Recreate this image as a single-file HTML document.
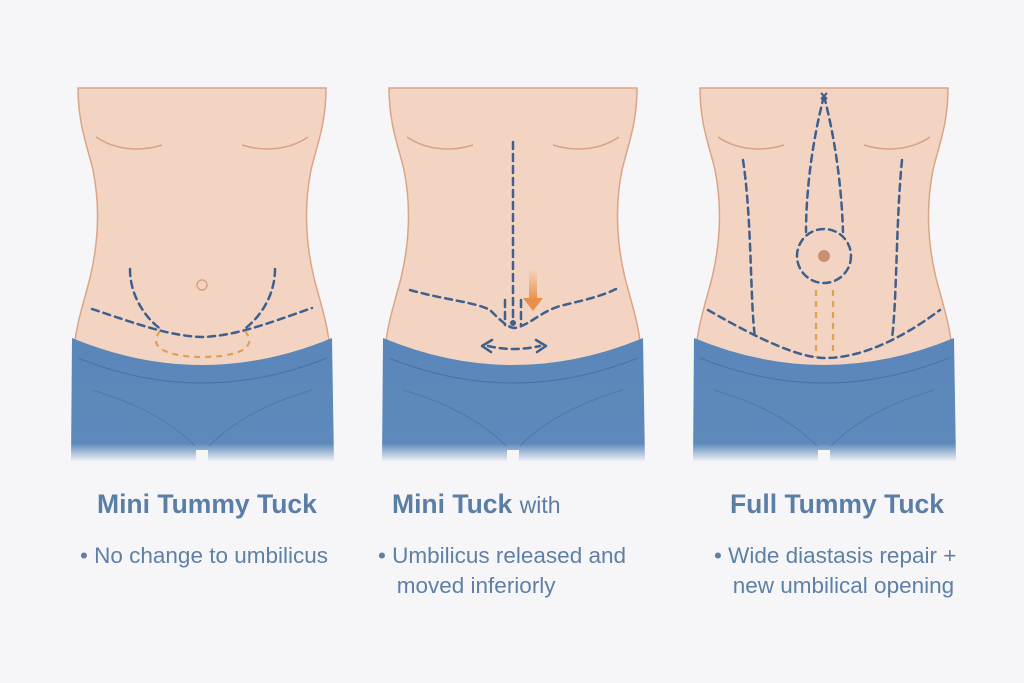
<!DOCTYPE html>
<html><head><meta charset="utf-8"><style>
html,body{margin:0;padding:0;background:#f6f6f9;}
body{width:1024px;height:683px;position:relative;overflow:hidden;font-family:"Liberation Sans",sans-serif;}
.t{position:absolute;font-weight:bold;font-size:26.5px;color:#5a7ea6;top:489px;white-space:nowrap}
.b{position:absolute;font-size:22.5px;color:#5f80a6;line-height:30px;white-space:nowrap}
</style></head><body>
<svg width="1024" height="683" style="position:absolute;left:0;top:0">
<defs>
<linearGradient id="fade" x1="0" y1="0" x2="0" y2="1">
<stop offset="0" stop-color="#5a86b9"/><stop offset="0.85" stop-color="#5d89bb"/><stop offset="1" stop-color="#f6f6f9"/></linearGradient>
<linearGradient id="og" x1="0" y1="0" x2="0" y2="1">
<stop offset="0" stop-color="#e89a5a" stop-opacity="0"/><stop offset="1" stop-color="#e8904a"/></linearGradient>
<g id="torso">
<path d="M78,88 L326,88 C326,125 316,148 311,170 C304,205 305,240 314,278 C321,305 328,325 330,350 L331,390 L73,390 L74,350 C76,325 83,305 90,278 C99,240 100,205 93,170 C88,148 78,125 78,88 Z" fill="#f3d4c2" stroke="#dba486" stroke-width="1.5"/>
<path d="M96,137 C115,150 140,152 162,145" fill="none" stroke="#d9a285" stroke-width="1.5"/>
<path d="M308,137 C289,150 264,152 242,145" fill="none" stroke="#d9a285" stroke-width="1.5"/>
<path d="M72,338 Q202,392 332,338 L334,462 L71,462 Z" fill="url(#fade)"/>
<path d="M78,358 Q202,408 327,358" fill="none" stroke="#4a72a3" stroke-width="1"/>
<path d="M92,390 Q160,410 195,446 M312,390 Q244,410 209,446" fill="none" stroke="#4a72a3" stroke-width="1" opacity="0.7"/>
<rect x="196" y="450" width="12" height="15" fill="#f6f6f9"/>
</g>
</defs>
<use href="#torso"/>
<use href="#torso" transform="translate(311,0)"/>
<use href="#torso" transform="translate(622,0)"/>
<g fill="none" stroke="#3f5f8c" stroke-width="2.5" stroke-dasharray="7 5" stroke-linecap="round">
<path d="M92,309 C140,325 170,336 202,337 C234,336 264,325 312,308"/>
<path d="M130,269 C130,300 150,322 162,330"/>
<path d="M275,269 C275,300 255,322 243,330"/>
<path d="M513,142 L513,322"/>
<path d="M505,300 L505,325 M521,300 L521,325"/>
<path d="M410,290 C445,300 475,302 490,310 C500,320 508,328 515,328 C530,325 540,312 560,306 C580,301 600,297 616,289"/>
<path d="M488,346 Q513,352 540,346"/>
<path d="M824,96 C810,150 806,200 806,232"/>
<path d="M824,96 C838,150 842,200 843,232"/>
<circle cx="824" cy="256" r="27"/>
<path d="M743,160 C752,220 750,300 755,338"/>
<path d="M902,160 C896,220 897,300 892,338"/>
<path d="M708,310 C760,340 800,358 825,358 C860,358 900,340 940,310"/>
</g>
<g fill="none" stroke="#e0a050" stroke-width="2.2" stroke-dasharray="6 5">
<path d="M160,331 C145,350 175,357 202,357 C232,357 260,350 245,331"/>
<path d="M816,290 L816,357 M833,290 L833,357"/>
</g>
<circle cx="202" cy="285" r="5" fill="none" stroke="#d9a285" stroke-width="1.5"/>
<circle cx="513" cy="323" r="3" fill="#3f5f8c"/>
<circle cx="824" cy="256" r="6" fill="#c88f76"/>
<rect x="529" y="268" width="8" height="32" fill="url(#og)"/>
<path d="M523,298 L543,298 L533,311 Z" fill="#e8904a"/>
<path d="M482,346 L492,340 M482,346 L491,352 M546,346 L536,340 M546,346 L537,352" stroke="#3f5f8c" stroke-width="2.5" stroke-linecap="round"/>
<path d="M821,93 L827,99 M827,93 L821,99" stroke="#3f5f8c" stroke-width="2"/>
</svg>
<div class="t" style="left:97px">Mini Tummy Tuck</div>
<div class="t" style="left:392px">Mini Tuck <span style="font-weight:normal;font-size:23px">with</span></div>
<div class="t" style="left:730px">Full Tummy Tuck</div>
<div class="b" style="left:80px;top:541px">• No change to umbilicus</div>
<div class="b" style="left:378px;top:541px">• Umbilicus released and<br>&nbsp;&nbsp;&nbsp;moved inferiorly</div>
<div class="b" style="left:714px;top:541px">• Wide diastasis repair +<br>&nbsp;&nbsp;&nbsp;new umbilical opening</div>
</body></html>
